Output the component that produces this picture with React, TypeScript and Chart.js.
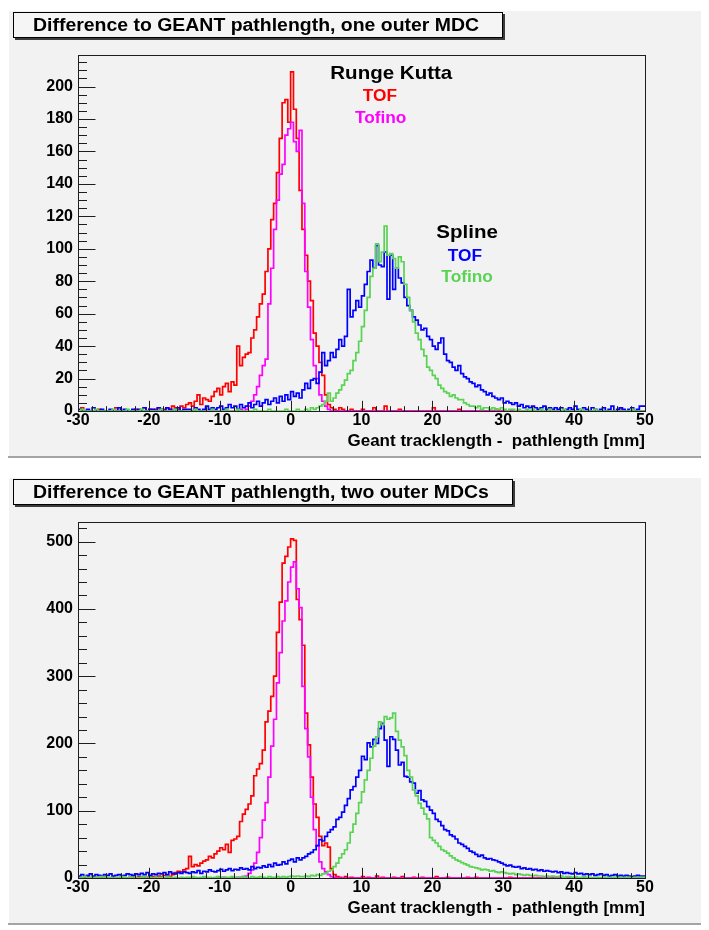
import React, { useEffect, useRef } from "react";
import { Chart, registerables } from "chart.js";

Chart.register(...registerables);

// Binning shared by every histogram: 200 bins of 0.4 mm from -30 to 50 mm.
// Each row of 20 values below covers 8 mm.
const X_MIN = -30;
const X_MAX = 50;
const BIN_WIDTH = 0.4;
const X_TICKS = [-30, -20, -10, 0, 10, 20, 30, 40, 50];
const X_MINOR_STEP = 2;
const X_TITLE = "Geant tracklength -  pathlength [mm]";

// ---- one outer MDC ----------------------------------------------------
const RK_TOF_1 = [
  0, 0, 2, 0, 0, 0, 0, 0, 1, 0, 0, 0, 0, 0, 2, 0, 0, 0, 0, 0,
  0, 1, 0, 0, 2, 0, 1, 0, 1, 2, 0, 1, 2, 1, 3, 2, 1, 3, 2, 4,
  5, 3, 6, 10, 4, 8, 7, 6, 9, 12, 14, 10, 15, 17, 12, 18, 16, 40, 28, 33,
  35, 36, 45, 50, 58, 66, 72, 86, 100, 118, 128, 147, 168, 190, 192, 178, 209, 186, 168, 136,
  112, 96, 80, 68, 48, 40, 30, 22, 10, 4, 2, 1, 0, 2, 1, 0, 0, 1, 0, 0,
  0, 1, 0, 0, 0, 2, 0, 0, 0, 3, 0, 0, 0, 0, 1, 0, 0, 0, 0, 0,
  0, 0, 0, 0, 0, 0, 2, 0, 0, 0, 0, 0, 0, 0, 0, 1, 0, 0, 0, 0,
  0, 0, 0, 0, 0, 0, 0, 0, 1, 0, 0, 0, 0, 0, 0, 0, 0, 0, 0, 0,
  0, 0, 0, 0, 0, 0, 0, 0, 0, 0, 0, 0, 0, 0, 0, 0, 0, 0, 0, 0,
  0, 0, 0, 0, 0, 0, 0, 0, 0, 0, 0, 0, 2, 0, 0, 0, 0, 0, 0, 0,
];
const RK_TOFINO_1 = [
  0, 0, 0, 0, 0, 0, 0, 0, 0, 0, 0, 0, 0, 0, 0, 0, 0, 0, 0, 0,
  0, 0, 0, 0, 0, 0, 0, 0, 0, 0, 0, 0, 0, 0, 0, 0, 0, 0, 0, 0,
  0, 0, 0, 0, 0, 0, 0, 0, 0, 0, 0, 0, 0, 0, 0, 0, 0, 0, 1, 0,
  1, 3, 6, 10, 15, 22, 28, 32, 66, 88, 112, 130, 146, 152, 170, 174, 178, 166, 160, 173,
  128, 86, 64, 44, 28, 20, 10, 6, 3, 1, 0, 0, 0, 0, 0, 0, 0, 0, 0, 0,
  0, 0, 0, 0, 0, 0, 0, 0, 0, 0, 0, 0, 0, 0, 0, 0, 0, 0, 0, 0,
  0, 0, 0, 0, 0, 0, 0, 0, 0, 0, 0, 0, 0, 0, 0, 0, 0, 0, 0, 0,
  0, 0, 0, 0, 0, 0, 0, 0, 0, 0, 0, 0, 0, 0, 0, 0, 0, 0, 0, 0,
  0, 0, 0, 0, 0, 0, 0, 0, 0, 0, 0, 0, 0, 0, 0, 0, 0, 0, 0, 0,
  0, 0, 0, 0, 0, 0, 0, 0, 0, 0, 0, 0, 0, 0, 0, 0, 0, 0, 0, 0,
];
const SPLINE_TOF_1 = [
  0, 1, 0, 0, 1, 0, 2, 0, 0, 1, 0, 0, 1, 0, 0, 2, 0, 1, 0, 0,
  1, 0, 1, 0, 2, 0, 1, 1, 0, 2, 1, 0, 2, 1, 0, 1, 2, 0, 1, 1,
  1, 0, 2, 1, 0, 1, 3, 1, 2, 1, 2, 3, 1, 2, 4, 2, 3, 1, 4, 2,
  3, 5, 2, 4, 6, 3, 5, 7, 4, 6, 8, 5, 9, 6, 10, 7, 12, 9, 11, 8,
  13, 17, 14, 19, 20, 17, 24, 36, 28, 31, 36, 33, 38, 44, 40, 46, 75, 58, 62, 68,
  64, 71, 78, 86, 93, 88, 102, 90, 89, 98, 69, 96, 75, 88, 82, 79, 70, 65, 62, 58,
  56, 53, 50, 51, 46, 44, 40, 38, 42, 45, 35, 31, 30, 27, 25, 28, 23, 21, 20, 18,
  17, 15, 16, 13, 12, 10, 11, 9, 8, 7, 8, 5, 6, 5, 4, 5, 3, 4, 2, 3,
  2, 3, 2, 1, 2, 3, 1, 2, 1, 2, 1, 2, 0, 1, 2, 1, 3, 1, 0, 2,
  1, 0, 2, 1, 0, 1, 2, 0, 1, 3, 0, 1, 2, 1, 0, 1, 2, 0, 1, 3,
];
const SPLINE_TOFINO_1 = [
  0, 0, 1, 0, 0, 0, 0, 1, 0, 0, 0, 0, 0, 1, 0, 0, 0, 0, 1, 0,
  0, 0, 0, 1, 0, 0, 0, 0, 0, 0, 1, 0, 0, 0, 0, 1, 0, 0, 0, 0,
  0, 0, 1, 0, 0, 0, 0, 0, 1, 0, 0, 0, 0, 1, 0, 0, 0, 1, 0, 0,
  0, 0, 0, 1, 0, 0, 0, 0, 1, 0, 0, 0, 0, 0, 1, 0, 0, 0, 1, 0,
  0, 1, 0, 2, 1, 2, 3, 4, 6, 11, 6, 8, 11, 13, 16, 19, 23, 25, 31, 36,
  43, 52, 62, 70, 83, 88, 103, 92, 98, 114, 96, 97, 94, 88, 95, 92, 78, 70, 62, 55,
  48, 44, 38, 34, 27, 25, 22, 20, 16, 14, 12, 11, 9, 10, 8, 7, 7, 5, 4, 3,
  3, 2, 3, 1, 2, 2, 1, 2, 1, 1, 2, 1, 0, 1, 1, 0, 1, 0, 0, 1,
  0, 1, 0, 0, 1, 0, 0, 1, 0, 0, 0, 0, 1, 0, 0, 0, 0, 0, 1, 0,
  0, 0, 0, 1, 0, 0, 0, 0, 0, 0, 0, 0, 0, 0, 0, 0, 1, 0, 0, 0,
];
const Y_TICKS_1 = [0, 20, 40, 60, 80, 100, 120, 140, 160, 180, 200];
const Y_MINOR_STEP_1 = 5;

// ---- two outer MDCs ---------------------------------------------------
const RK_TOF_2 = [
  0, 1, 0, 0, 2, 0, 0, 1, 0, 0, 1, 0, 0, 2, 0, 0, 1, 0, 0, 1,
  1, 0, 2, 1, 2, 1, 3, 2, 1, 3, 2, 4, 3, 2, 5, 8, 10, 9, 12, 14,
  32, 17, 20, 18, 22, 25, 27, 32, 30, 36, 40, 45, 42, 50, 38, 56, 58, 62, 84, 95,
  102, 110, 122, 152, 162, 170, 190, 232, 248, 270, 300, 365, 410, 468, 478, 492, 504, 502, 414, 384,
  346, 245, 198, 150, 110, 90, 62, 48, 52, 46, 14, 5, 2, 1, 0, 2, 0, 1, 0, 0,
  0, 2, 0, 1, 0, 0, 3, 0, 1, 0, 0, 0, 1, 0, 0, 2, 0, 0, 0, 1,
  0, 0, 1, 0, 0, 0, 0, 2, 0, 0, 0, 1, 0, 0, 0, 0, 0, 0, 1, 0,
  0, 1, 0, 0, 0, 0, 0, 0, 0, 0, 0, 0, 0, 1, 0, 0, 0, 0, 0, 0,
  0, 0, 0, 0, 0, 0, 0, 0, 1, 0, 0, 0, 0, 0, 0, 0, 0, 0, 0, 0,
  0, 0, 0, 0, 0, 0, 0, 0, 0, 0, 0, 0, 0, 0, 0, 0, 0, 0, 0, 0,
];
const RK_TOFINO_2 = [
  0, 0, 0, 0, 0, 0, 0, 0, 0, 0, 0, 0, 0, 0, 0, 0, 0, 0, 0, 0,
  0, 0, 0, 0, 0, 0, 0, 0, 0, 0, 0, 0, 0, 0, 0, 0, 0, 0, 0, 0,
  0, 0, 0, 0, 0, 0, 0, 0, 0, 0, 0, 0, 1, 0, 0, 1, 0, 1, 1, 2,
  3, 7, 12, 22, 38, 60, 86, 112, 150, 196, 236, 290, 335, 382, 412, 440, 462, 470, 430, 402,
  285, 222, 180, 120, 72, 48, 24, 14, 9, 5, 2, 1, 0, 0, 0, 0, 0, 0, 0, 0,
  0, 0, 0, 0, 0, 0, 0, 0, 0, 0, 0, 0, 0, 0, 0, 0, 0, 0, 0, 0,
  0, 0, 0, 0, 0, 0, 0, 0, 0, 0, 0, 0, 0, 0, 0, 0, 0, 0, 0, 0,
  0, 0, 0, 0, 0, 0, 0, 0, 0, 0, 0, 0, 0, 0, 0, 0, 0, 0, 0, 0,
  0, 0, 0, 0, 0, 0, 0, 0, 0, 0, 0, 0, 0, 0, 0, 0, 0, 0, 0, 0,
  0, 0, 0, 0, 0, 0, 0, 0, 0, 0, 0, 0, 0, 0, 0, 0, 0, 0, 0, 0,
];
const SPLINE_TOF_2 = [
  4, 3, 5, 2, 4, 6, 3, 5, 4, 3, 5, 4, 6, 3, 4, 5, 3, 4, 6, 5,
  4, 6, 5, 7, 5, 8, 4, 6, 5, 7, 6, 8, 5, 9, 7, 6, 8, 7, 9, 8,
  7, 9, 8, 11, 7, 10, 9, 12, 10, 9, 11, 13, 10, 12, 14, 11, 13, 12, 15, 13,
  14, 12, 17, 14, 16, 15, 18, 16, 20, 17, 22, 19, 20, 24, 21, 26, 28, 24, 30, 27,
  30, 32, 36, 38, 42, 48, 57, 55, 62, 68, 72, 76, 87, 90, 98, 108, 118, 131, 136, 150,
  160, 181, 176, 201, 195, 206, 200, 222, 230, 205, 166, 210, 206, 190, 168, 172, 151, 150, 143, 141,
  126, 130, 116, 114, 106, 101, 96, 87, 84, 78, 72, 70, 64, 62, 58, 52, 50, 47, 44, 40,
  38, 35, 32, 34, 30, 28, 29, 27, 26, 24, 22, 20, 18, 19, 17, 16, 17, 14, 15, 13,
  14, 12, 13, 11, 12, 10, 11, 10, 9, 10, 8, 9, 7, 8, 7, 6, 8, 6, 7, 5,
  6, 5, 6, 4, 5, 6, 4, 5, 3, 4, 5, 3, 4, 3, 4, 3, 2, 3, 4, 3,
];
const SPLINE_TOFINO_2 = [
  1, 0, 1, 2, 0, 1, 0, 1, 0, 2, 1, 0, 1, 0, 1, 0, 2, 1, 0, 1,
  0, 1, 0, 1, 2, 0, 1, 0, 1, 0, 1, 0, 2, 1, 0, 1, 0, 1, 0, 1,
  1, 2, 1, 0, 1, 2, 1, 1, 0, 1, 2, 1, 0, 1, 1, 2, 1, 0, 1, 2,
  1, 0, 2, 1, 1, 2, 1, 0, 2, 1, 1, 2, 1, 2, 1, 2, 3, 2, 3, 2,
  2, 3, 2, 4, 3, 5, 4, 6, 7, 10, 12, 17, 22, 30, 36, 42, 52, 68, 80, 96,
  112, 128, 146, 160, 178, 196, 210, 232, 228, 240, 236, 238, 245, 218, 205, 195, 182, 160, 150, 131,
  122, 111, 104, 95, 88, 60, 56, 52, 47, 42, 40, 37, 33, 30, 27, 25, 23, 21, 19, 17,
  16, 15, 14, 12, 13, 12, 10, 11, 9, 8, 9, 8, 7, 6, 7, 5, 6, 5, 4, 5,
  4, 3, 4, 3, 3, 2, 3, 2, 3, 2, 2, 3, 1, 2, 2, 1, 2, 1, 1, 2,
  1, 1, 0, 1, 1, 0, 1, 1, 0, 1, 1, 0, 1, 0, 1, 1, 0, 1, 0, 1,
];
const Y_TICKS_2 = [0, 100, 200, 300, 400, 500];
const Y_MINOR_STEP_2 = 20;

// ---- styling ----------------------------------------------------------
const FONT = '"Liberation Sans", Arial, Helvetica, sans-serif';
const RED = "#ff0000";
const MAGENTA = "#ff00ff";
const BLUE = "#0000ff";
const GREEN = "#59d354";
const PAD_FILL = "#f2f2f2";
const TEXT_STRETCH = 1.08;

const CANVAS_W = 701;
const CANVAS_H = 448;

type Series = { label: string; values: number[]; color: string; order: number };
type TextLabel = { text: string; color: string; x: number; y: number; size: number };

function histPoints(values: number[]) {
  const pts = values.map((v, i) => ({ x: X_MIN + i * BIN_WIDTH, y: v }));
  pts.push({ x: X_MAX, y: values[values.length - 1] });
  return pts;
}

// Draws text slightly widened, centred or left-anchored at (x, y).
function wideText(ctx: CanvasRenderingContext2D, text: string, x: number, y: number, align: "left" | "center") {
  ctx.save();
  ctx.translate(x, y);
  ctx.scale(TEXT_STRETCH, 1);
  ctx.textAlign = align;
  ctx.textBaseline = "middle";
  ctx.fillText(text, 0, 0);
  ctx.restore();
}

// Pad background with a light/dark bevel.
const padPlugin = {
  id: "rootPad",
  beforeDraw(chart: any) {
    const { ctx, width, height } = chart;
    ctx.save();
    ctx.fillStyle = PAD_FILL;
    ctx.fillRect(0, 0, width, height);
    ctx.fillStyle = "#ffffff";
    ctx.fillRect(0, 0, width, 1);
    ctx.fillRect(0, 0, 1, height);
    ctx.fillStyle = "#a4a4a4";
    ctx.fillRect(0, height - 2, width, 2);
    ctx.restore();
  },
};

// Frame box plus inward major/minor tick marks on both axes.
const framePlugin = {
  id: "rootFrame",
  afterDatasetsDraw(chart: any, _args: any, opts: any) {
    const { ctx, chartArea: a, scales } = chart;
    const xs = scales.x;
    const ys = scales.y;
    const left = Math.round(a.left) + 0.5;
    const bottom = Math.round(a.bottom) + 0.5;
    const w = a.right - a.left;
    const h = a.bottom - a.top;
    ctx.save();
    ctx.strokeStyle = "#1e1e1e";
    ctx.lineWidth = 1;
    ctx.strokeRect(left, Math.round(a.top) + 0.5, Math.round(w), Math.round(h));
    ctx.beginPath();
    const yMajorLen = w * 0.03;
    for (let k = 0; k * opts.yMinor <= ys.max; k++) {
      const v = k * opts.yMinor;
      const py = Math.round(ys.getPixelForValue(v)) + 0.5;
      const len = opts.yMajor.includes(v) ? yMajorLen : yMajorLen / 2;
      ctx.moveTo(left, py);
      ctx.lineTo(left + len, py);
    }
    const xMajorLen = h * 0.03;
    for (let k = 0; X_MIN + k * X_MINOR_STEP <= X_MAX; k++) {
      const v = X_MIN + k * X_MINOR_STEP;
      const px = Math.round(xs.getPixelForValue(v)) + 0.5;
      const len = X_TICKS.includes(v) ? xMajorLen : xMajorLen / 2;
      ctx.moveTo(px, bottom);
      ctx.lineTo(px, bottom - len);
    }
    ctx.stroke();
    ctx.restore();
  },
};

// Title pave with drop shadow in the upper-left corner.
const titlePlugin = {
  id: "rootTitle",
  afterDraw(chart: any, _args: any, opts: any) {
    const { ctx } = chart;
    ctx.save();
    ctx.font = `bold 18px ${FONT}`;
    const tw = ctx.measureText(opts.text).width * TEXT_STRETCH;
    const x = 5;
    const y = 2;
    const bw = Math.round(tw + 44);
    const bh = 26;
    ctx.fillStyle = "#3c3c3c";
    ctx.fillRect(x + 2, y + 2, bw, bh);
    ctx.fillStyle = "#f5f5f5";
    ctx.fillRect(x, y, bw, bh);
    ctx.strokeStyle = "#000";
    ctx.lineWidth = 1;
    ctx.strokeRect(x + 0.5, y + 0.5, bw - 1, bh - 1);
    ctx.fillStyle = "#000";
    wideText(ctx, opts.text, x + 20, y + bh / 2 + 1, "left");
    ctx.restore();
  },
};

// Free text placed in data coordinates.
const labelPlugin = {
  id: "rootLabels",
  afterDraw(chart: any, _args: any, opts: any) {
    const labels: TextLabel[] = opts.labels || [];
    const { ctx, scales } = chart;
    ctx.save();
    for (const l of labels) {
      ctx.font = `bold ${l.size}px ${FONT}`;
      ctx.fillStyle = l.color;
      wideText(ctx, l.text, scales.x.getPixelForValue(l.x), scales.y.getPixelForValue(l.y), "center");
    }
    ctx.restore();
  },
};

function makeConfig(
  series: Series[],
  title: string,
  yTicks: number[],
  yMinor: number,
  labels: TextLabel[]
): any {
  const peak = Math.max(...series.flatMap((s) => s.values));
  const tickFont = { family: FONT, size: 16, weight: "bold" as const };
  return {
    type: "line",
    data: {
      datasets: series.map((s) => ({
        label: s.label,
        data: histPoints(s.values),
        borderColor: s.color,
        backgroundColor: s.color,
        borderWidth: 1.7,
        pointRadius: 0,
        stepped: "after",
        fill: false,
        order: s.order,
      })),
    },
    options: {
      animation: false,
      responsive: false,
      events: [],
      layout: { padding: { left: 0, top: 45, right: 64, bottom: 0 } },
      plugins: {
        legend: { display: false },
        tooltip: { enabled: false },
        title: { display: false },
        rootTitle: { text: title },
        rootFrame: { yMajor: yTicks, yMinor },
        rootLabels: { labels },
      },
      scales: {
        x: {
          type: "linear",
          min: X_MIN,
          max: X_MAX,
          grid: { display: false, drawTicks: false },
          border: { display: false },
          ticks: {
            autoSkip: false,
            maxRotation: 0,
            padding: 0,
            color: "#000",
            font: tickFont,
            callback: (v: number) => String(v),
          },
          afterBuildTicks: (s: any) => {
            s.ticks = X_TICKS.map((v) => ({ value: v }));
          },
          afterFit: (s: any) => {
            s.height = 47;
          },
          title: {
            display: true,
            text: X_TITLE,
            align: "end",
            color: "#000",
            font: { family: FONT, size: 17, weight: "bold" },
            padding: { top: 0, bottom: 6 },
          },
        },
        y: {
          type: "linear",
          min: 0,
          max: peak * 1.05,
          grid: { display: false, drawTicks: false },
          border: { display: false },
          ticks: {
            autoSkip: false,
            padding: 5,
            color: "#000",
            font: tickFont,
            callback: (v: number) => String(v),
          },
          afterBuildTicks: (s: any) => {
            s.ticks = yTicks.map((v) => ({ value: v }));
          },
          afterFit: (s: any) => {
            s.width = 70;
          },
        },
      },
    },
    plugins: [padPlugin, framePlugin, titlePlugin, labelPlugin],
  };
}

const SERIES_1: Series[] = [
  { label: "Runge Kutta TOF", values: RK_TOF_1, color: RED, order: 4 },
  { label: "Runge Kutta Tofino", values: RK_TOFINO_1, color: MAGENTA, order: 3 },
  { label: "Spline TOF", values: SPLINE_TOF_1, color: BLUE, order: 2 },
  { label: "Spline Tofino", values: SPLINE_TOFINO_1, color: GREEN, order: 1 },
];
const SERIES_2: Series[] = [
  { label: "Runge Kutta TOF", values: RK_TOF_2, color: RED, order: 4 },
  { label: "Runge Kutta Tofino", values: RK_TOFINO_2, color: MAGENTA, order: 3 },
  { label: "Spline TOF", values: SPLINE_TOF_2, color: BLUE, order: 2 },
  { label: "Spline Tofino", values: SPLINE_TOFINO_2, color: GREEN, order: 1 },
];

const LABELS_1: TextLabel[] = [
  { text: "Runge Kutta", color: "#000", x: 14.2, y: 208, size: 19 },
  { text: "TOF", color: RED, x: 12.6, y: 194, size: 16 },
  { text: "Tofino", color: MAGENTA, x: 12.7, y: 180.5, size: 16 },
  { text: "Spline", color: "#000", x: 24.9, y: 110, size: 19 },
  { text: "TOF", color: BLUE, x: 24.6, y: 95, size: 16 },
  { text: "Tofino", color: GREEN, x: 24.9, y: 82.5, size: 16 },
];

function HistPanel(props: {
  series: Series[];
  title: string;
  yTicks: number[];
  yMinor: number;
  labels: TextLabel[];
  top: number;
}) {
  const ref = useRef<HTMLCanvasElement>(null);
  useEffect(() => {
    if (!ref.current) return;
    const chart = new Chart(
      ref.current,
      makeConfig(props.series, props.title, props.yTicks, props.yMinor, props.labels)
    );
    return () => chart.destroy();
  }, []);
  return (
    <canvas
      ref={ref}
      width={CANVAS_W}
      height={CANVAS_H}
      style={{ position: "absolute", left: 0, top: props.top, width: CANVAS_W, height: CANVAS_H, display: "block" }}
    />
  );
}

export default function App() {
  return (
    <div style={{ position: "relative", width: CANVAS_W, height: 917 }}>
      <HistPanel
        series={SERIES_1}
        title="Difference to GEANT pathlength, one outer MDC"
        yTicks={Y_TICKS_1}
        yMinor={Y_MINOR_STEP_1}
        labels={LABELS_1}
        top={2}
      />
      <HistPanel
        series={SERIES_2}
        title="Difference to GEANT pathlength, two outer MDCs"
        yTicks={Y_TICKS_2}
        yMinor={Y_MINOR_STEP_2}
        labels={[]}
        top={469}
      />
    </div>
  );
}
